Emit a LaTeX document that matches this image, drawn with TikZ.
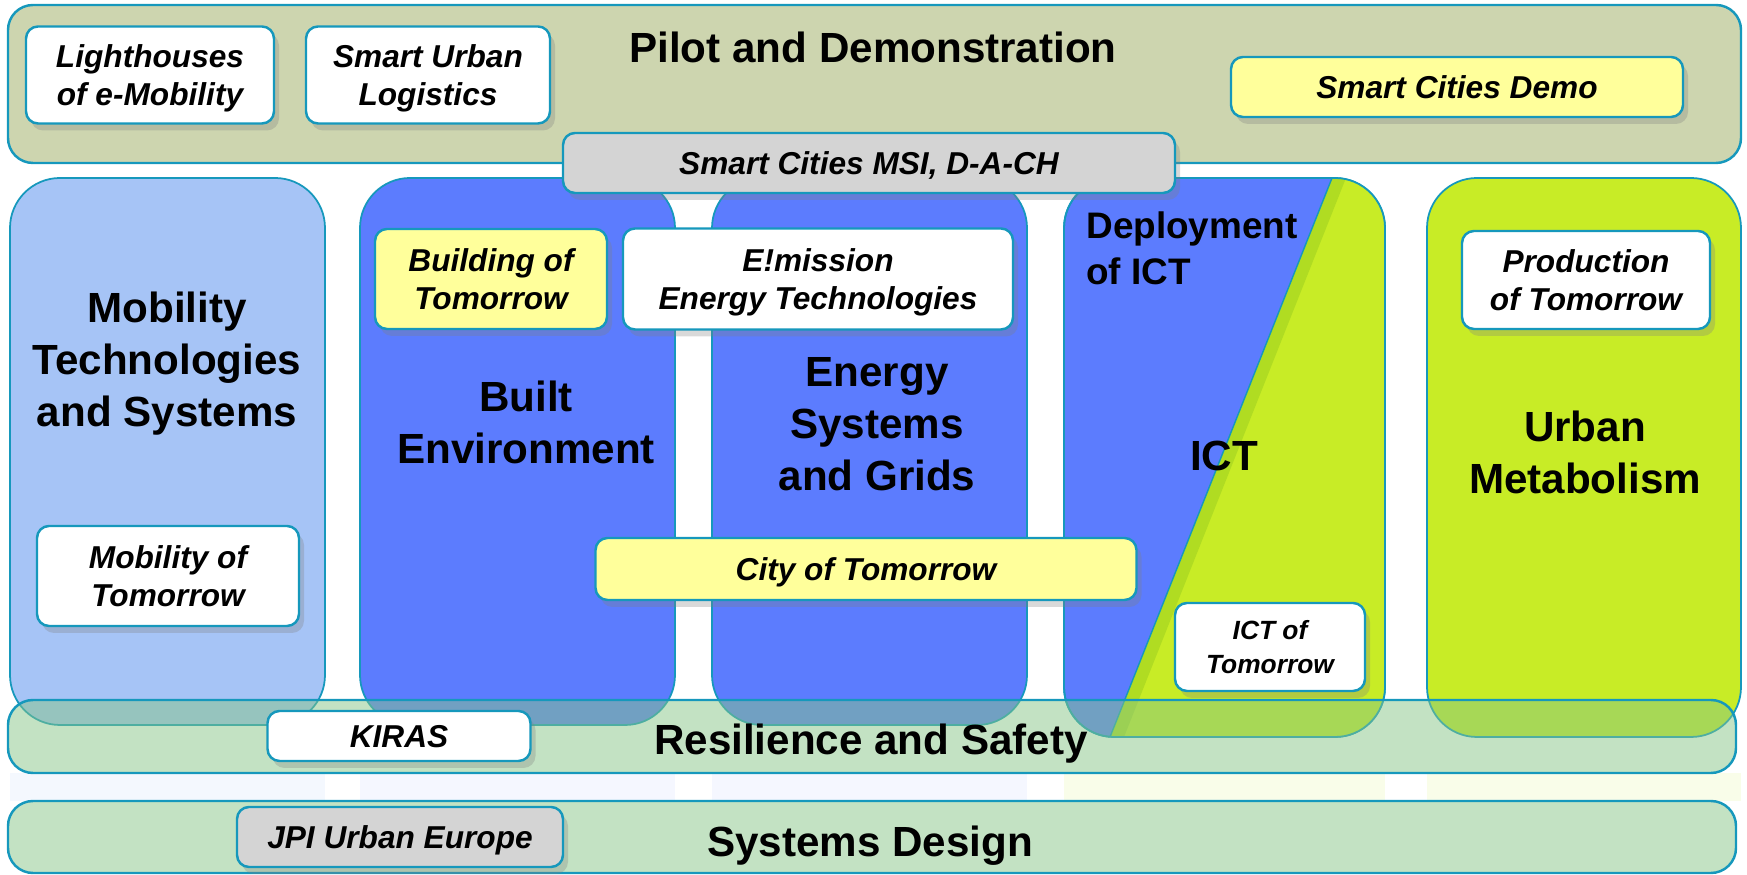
\documentclass[tikz,border=0pt]{standalone}
\usepackage{fontspec}
\setmainfont{Liberation Sans}
\usetikzlibrary{shadows}
\definecolor{rim}{RGB}{22,152,188}
\definecolor{olive}{RGB}{205,213,175}
\definecolor{skyblue}{RGB}{166,196,246}
\definecolor{deepblue}{RGB}{92,124,254}
\definecolor{lime}{RGB}{200,236,38}
\definecolor{darklime}{RGB}{176,220,34}
\definecolor{lemon}{RGB}{255,255,155}
\definecolor{silver}{RGB}{212,212,212}
\definecolor{mint}{RGB}{135,197,135}
\tikzset{
plan/.style={x=0.1mm,y=-0.1mm},
band/.style={draw=rim,line width=0.7pt,rounded corners=2.5mm},
glass/.style={band,fill=mint,fill opacity=0.5},
column/.style={draw=rim,line width=0.5pt,fill=#1,rounded corners=5mm},
prog/.style={draw=rim,line width=0.7pt,rounded corners=1.2mm,fill=#1,
    align=center,inner sep=0pt,text depth=0pt,
    font=\fontsize{9}{10.8}\selectfont\bfseries\itshape,
    drop shadow={opacity=0.3,shadow xshift=0.5mm,shadow yshift=-0.7mm}},
prog/.default={white},
area/.style={font=\fontsize{12}{14.8}\selectfont\bfseries,align=center},
}

\begin{document}
\begin{tikzpicture}[plan]
    \useasboundingbox (0,0) rectangle (1747,875);

    \draw[band,fill=olive] (8,5) rectangle (1741,163);

    \draw[column=skyblue] (10,178) rectangle (325,725);
    \draw[column=deepblue] (360,178) rectangle (675,725);
    \draw[column=deepblue] (712,178) rectangle (1027,725);
    \draw[column=deepblue] (1064,178) rectangle (1385,737);
    \begin{scope}
        \clip[rounded corners=5mm] (1064,178) rectangle (1385,737);
        \fill[lime] (1332,178) -- (1400,178) -- (1400,750) -- (1105,750) -- cycle;
        \fill[darklime] (1332,178) -- (1346,178) -- (1124,737) -- (1110,737) -- cycle;
        \draw[rim,line width=0.4pt] (1332,178) -- (1110,737);
    \end{scope}
    \draw[rim,line width=0.5pt,rounded corners=5mm] (1064,178) rectangle (1385,737);
    \draw[column=lime] (1427,178) rectangle (1741,737);

    \fill[skyblue,opacity=0.12] (10,773) rectangle (325,801);
    \fill[deepblue,opacity=0.06] (360,773) rectangle (675,801);
    \fill[deepblue,opacity=0.06] (712,773) rectangle (1027,801);
    \fill[lime,opacity=0.1] (1064,773) rectangle (1385,801);
    \fill[lime,opacity=0.1] (1427,773) rectangle (1741,801);

    \draw[glass] (8,700) rectangle (1736,773);
    \draw[glass] (8,801) rectangle (1736,873);

    \node[area,anchor=base] (pilot) at (873,63) {Pilot and Demonstration};
    \node[prog,minimum width=24.8mm,minimum height=9.7mm] (light) at (150,75) {Lighthouses\\of e-Mobility};
    \node[prog,minimum width=24.4mm,minimum height=9.7mm] (logis) at (428,75) {Smart Urban\\Logistics};
    \node[prog=lemon,minimum width=45.2mm,minimum height=6mm] (demo) at (1457,87) {Smart Cities Demo};
    \node[prog=silver,minimum width=61.2mm,minimum height=6mm] (msi) at (869,163) {Smart Cities MSI, D-A-CH};

    \node[area] (mobil) at (167,364) {Mobility\\Technologies\\and Systems};
    \node[prog,minimum width=26.2mm,minimum height=10mm] (mobtom) at (168,576) {Mobility of\\Tomorrow};
    \node[area] (built) at (526,422) {Built\\Environment};
    \node[prog=lemon,minimum width=23.2mm,minimum height=10mm] (bldtom) at (491,279) {Building of\\Tomorrow};
    \node[prog,minimum width=39mm,minimum height=10.1mm] (emis) at (818,279) {E!mission\\Energy Technologies};
    \node[area] (energy) at (877,424) {Energy\\Systems\\and Grids};
    \node[prog=lemon,minimum width=54.1mm,minimum height=6.2mm] (city) at (866,569) {City of Tomorrow};
    \node[area,anchor=west,align=left,font=\fontsize{10.5}{13}\selectfont\bfseries] (deploy) at (1074,248) {Deployment\\of ICT};
    \node[area] (ict) at (1224,456) {ICT};
    \node[prog,minimum width=19mm,minimum height=8.8mm,font=\fontsize{7.5}{9.5}\selectfont\bfseries\itshape] (icttom) at (1270,647) {ICT of\\Tomorrow};
    \node[prog,minimum width=24.8mm,minimum height=9.8mm] (prod) at (1586,280) {Production\\of Tomorrow};
    \node[area] (urban) at (1585,452) {Urban\\Metabolism};

    \node[prog,minimum width=26.3mm,minimum height=5mm] (kiras) at (399,736) {KIRAS};
    \node[area,anchor=base] (resil) at (871,755) {Resilience and Safety};
    \node[prog=silver,minimum width=32.6mm,minimum height=6mm] (jpi) at (400,837) {JPI Urban Europe};
    \node[area,anchor=base] (sysd) at (870,857) {Systems Design};
\end{tikzpicture}
\end{document}
